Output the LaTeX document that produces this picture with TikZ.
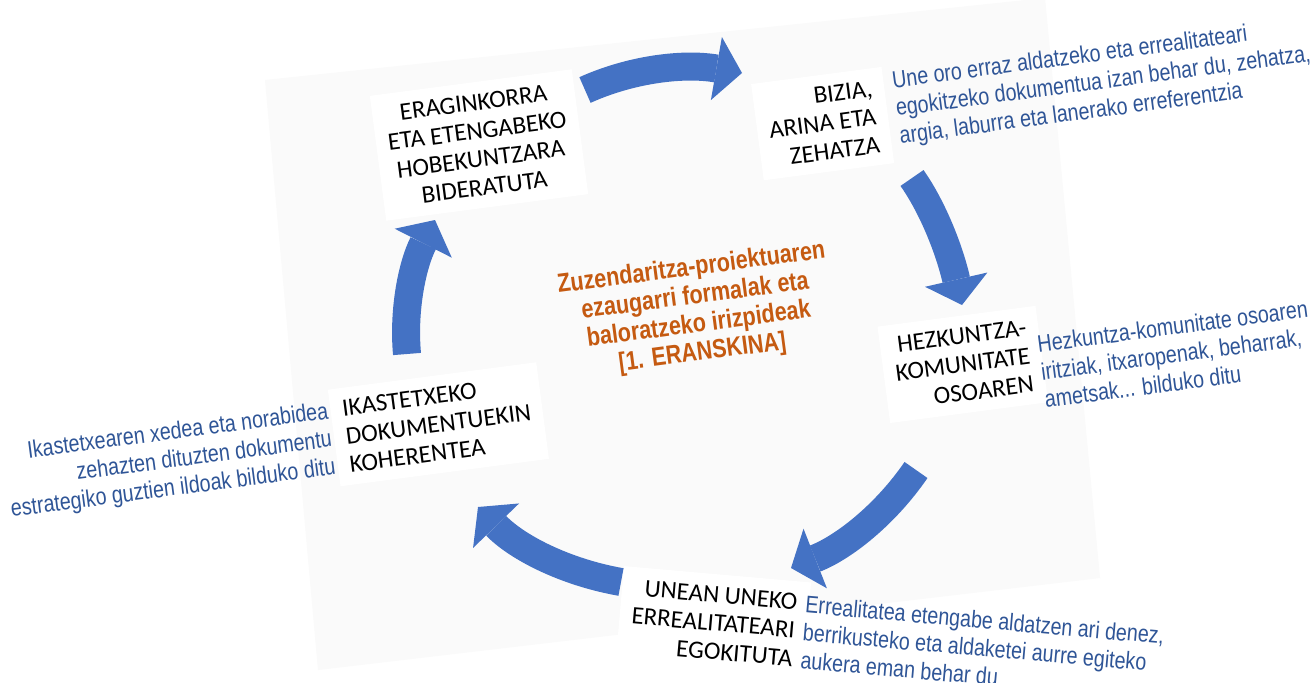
\documentclass[tikz,border=0pt]{standalone}
\usepackage{fontspec}
\setmainfont{Carlito}
\newfontfamily\narrowfont[FakeStretch=0.82]{Liberation Sans}
\usetikzlibrary{arrows.meta,calc}
\definecolor{arrowblue}{HTML}{4472C4}
\definecolor{textblue}{HTML}{2F5597}
\definecolor{titleorange}{HTML}{C55A11}
\definecolor{bggray}{HTML}{FAFAFA}
\begin{document}
\begin{tikzpicture}[x=1pt,y=-1pt,
  lbl/.style={font=\fontsize{25}{28.5}\selectfont, text=black, fill=white, inner sep=12pt},
  desc/.style={font=\narrowfont\fontsize{24}{28}\selectfont, text=textblue, inner sep=2pt},
  titletext/.style={font=\narrowfont\bfseries\fontsize{26.3}{28.5}\selectfont, text=titleorange, align=center},
  bigarrow/.style={color=arrowblue, line width=28pt, -{Triangle[width=64pt,length=26pt,line width=0pt]}}
]
\useasboundingbox (0,0) rectangle (1313,682);
\fill[white] (0,0) rectangle (1313,682);
% faint tilted background sheet
\fill[bggray] (265,80) -- (1045,-2) -- (1100,578) -- (318,670) -- cycle;

% labels
\node[lbl, align=center, rotate=7.5] (l1) at (479,145)
  {ERAGINKORRA\\ETA ETENGABEKO\\HOBEKUNTZARA\\BIDERATUTA};
\node[lbl, align=right, rotate=7.5, anchor=east] (l2) at (888,115)
  {BIZIA,\\ARINA ETA\\ZEHATZA};
\node[lbl, align=right, rotate=7.5, anchor=east] (l3) at (1042,354)
  {HEZKUNTZA-\\KOMUNITATE\\OSOAREN};
\node[lbl, align=right, rotate=-5, anchor=east] (l4) at (807,631)
  {UNEAN UNEKO\\ERREALITATEARI\\EGOKITUTA};
\node[lbl, align=left, rotate=7.5, anchor=west] (l5) at (334,438)
  {IKASTETXEKO\\DOKUMENTUEKIN\\KOHERENTEA};

% descriptions
\node[desc, align=left, rotate=7.5, anchor=west] (d2) at (894,110)
  {Une oro erraz aldatzeko eta errealitateari\\egokitzeko dokumentua izan behar du, zehatza,\\argia, laburra eta lanerako erreferentzia};
\node[desc, align=left, rotate=7.5, anchor=west] (d3) at (1039,372)
  {Hezkuntza-komunitate osoaren\\iritziak, itxaropenak, beharrak,\\ametsak... bilduko ditu};
\node[desc, align=left, rotate=-5, anchor=west] (d4) at (801,632)
  {Errealitatea etengabe aldatzen ari denez,\\berrikusteko eta aldaketei aurre egiteko\\aukera eman behar du};
\node[desc, align=right, rotate=7.5, anchor=east] (d5) at (334,440)
  {Ikastetxearen xedea eta norabidea\\zehazten dituzten dokumentu\\estrategiko guztien ildoak bilduko ditu};

% centre title
\node[titletext, rotate=7.5] (title) at (697,311)
  {Zuzendaritza-proiektuaren\\ezaugarri formalak eta\\baloratzeko irizpideak\\{[1. ERANSKINA]}};

% arrows
\coordinate (a1s) at (585,90);  \coordinate (a1c) at (656,58);  \coordinate (a1e) at (742,73);
\coordinate (a2s) at (912,178); \coordinate (a2c) at (943,222); \coordinate (a2e) at (962,305);
\coordinate (a3s) at (916,470); \coordinate (a3c) at (870,537); \coordinate (a3e) at (791,568);
\coordinate (a4s) at (621,582); \coordinate (a4c) at (536,567); \coordinate (a4e) at (478,507);
\coordinate (a5s) at (407,354); \coordinate (a5c) at (401,287); \coordinate (a5e) at (435,220);
\foreach \i in {1,...,5}{
  \draw[bigarrow] (a\i s) .. controls ($(a\i s)!2/3!(a\i c)$) and ($(a\i e)!2/3!(a\i c)$) .. (a\i e);
}
\end{tikzpicture}
\end{document}
